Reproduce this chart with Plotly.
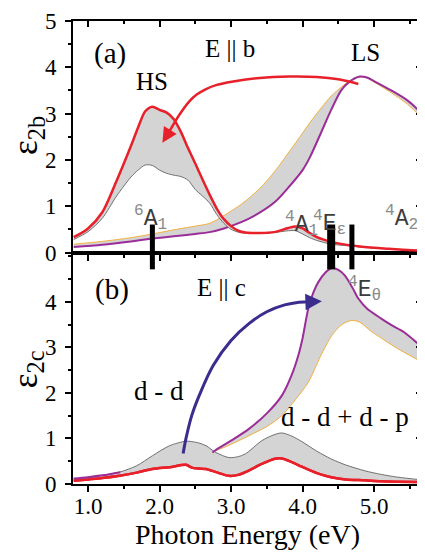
import plotly.graph_objects as go

# ---------------- data ----------------
# Panel (a): eps_2b, HS pair (red upper / gray lower)
E_hs_a = [0.8, 1.0, 1.2, 1.4, 1.6, 1.7, 1.8, 1.9, 2.0, 2.1, 2.2, 2.3, 2.4, 2.5, 2.6, 2.7, 2.8,
          2.9, 3.0, 3.1, 3.2, 3.4, 3.6, 3.8, 3.9, 4.0, 4.1, 4.2, 4.4, 4.6, 4.8, 5.0, 5.2, 5.4, 5.67]
hs_a_red = [0.33, 0.52, 0.87, 1.55, 2.3, 2.7, 3.05, 3.15, 3.08, 3.02, 2.88, 2.6, 2.25, 1.92, 1.58,
            1.25, 0.95, 0.72, 0.57, 0.47, 0.43, 0.42, 0.44, 0.53, 0.56, 0.52, 0.42, 0.33, 0.23,
            0.17, 0.13, 0.1, 0.08, 0.06, 0.04]
hs_a_gray = [0.28, 0.45, 0.74, 1.22, 1.63, 1.78, 1.89, 1.88, 1.78, 1.71, 1.67, 1.64, 1.56, 1.36,
             1.22, 1.07, 0.82, 0.63, 0.5, 0.44, 0.42, 0.42, 0.43, 0.47, 0.47, 0.4, 0.32, 0.26,
             0.18, 0.15, 0.12, 0.1, 0.08, 0.06, 0.04]

# Panel (a): LS pair (orange / purple)
E_ls_a = [0.8, 1.2, 1.6, 1.9, 2.2, 2.5, 2.7, 2.9, 3.15, 3.4, 3.62, 3.8, 4.0, 4.1, 4.27, 4.4,
          4.54, 4.65, 4.8, 4.9, 5.0, 5.24, 5.47, 5.67]
ls_a_purple = [0.12, 0.17, 0.24, 0.3, 0.35, 0.4, 0.44, 0.52, 0.66, 0.86, 1.1, 1.4, 1.78, 2.05,
               2.63, 3.08, 3.5, 3.68, 3.8, 3.78, 3.7, 3.5, 3.28, 3.0]
ls_a_orange = [0.18, 0.24, 0.32, 0.4, 0.49, 0.57, 0.63, 0.8, 1.05, 1.38, 1.77, 2.15, 2.58, 2.8,
               3.14, 3.38, 3.57, 3.7, 3.79, 3.77, 3.68, 3.45, 3.2, 2.9]

# Panel (b): eps_2c, HS pair (gray upper / red lower)
E_hs_c = [0.8, 1.0, 1.2, 1.44, 1.68, 1.9, 2.14, 2.37, 2.45, 2.55, 2.65, 2.79, 2.97, 3.1, 3.2,
          3.43, 3.6, 3.71, 3.85, 3.99, 4.2, 4.4, 4.6, 4.87, 5.1, 5.33, 5.67]
hs_c_gray = [0.11, 0.14, 0.19, 0.26, 0.4, 0.62, 0.84, 0.94, 0.93, 0.9, 0.84, 0.69, 0.58, 0.6,
             0.66, 0.95, 1.08, 1.12, 1.05, 0.93, 0.72, 0.55, 0.42, 0.29, 0.21, 0.15, 0.09]
hs_c_red = [0.07, 0.1, 0.13, 0.18, 0.25, 0.33, 0.37, 0.42, 0.36, 0.34, 0.33, 0.26, 0.18, 0.2,
            0.26, 0.44, 0.55, 0.56, 0.48, 0.38, 0.24, 0.15, 0.1, 0.08, 0.06, 0.05, 0.04]

# Panel (b): LS pair (purple upper / orange lower)
E_ls_c = [2.74, 2.79, 3.0, 3.25, 3.5, 3.71, 3.85, 3.94, 4.0, 4.08, 4.15, 4.22, 4.32, 4.41, 4.5,
          4.59, 4.7, 4.78, 4.9, 5.1, 5.25, 5.42, 5.67]
ls_c_purple = [0.69, 0.75, 0.95, 1.21, 1.55, 1.94, 2.4, 2.82, 3.2, 3.85, 4.2, 4.43, 4.64, 4.74,
               4.7, 4.58, 4.3, 4.07, 3.85, 3.63, 3.48, 3.33, 3.0]
E_ls_c_o = [2.74, 2.79, 3.0, 3.25, 3.5, 3.71, 3.9, 4.08, 4.25, 4.41, 4.55, 4.69, 4.8, 4.96,
            5.15, 5.33, 5.5, 5.67]
ls_c_orange = [0.69, 0.73, 0.87, 1.06, 1.26, 1.5, 1.85, 2.23, 2.8, 3.26, 3.5, 3.59, 3.55, 3.35,
               3.15, 2.97, 2.82, 2.67]
E_ls_c_low = [0.8, 1.0, 1.2, 1.45]
ls_c_purple_low = [0.12, 0.15, 0.19, 0.26]

# Multiplet transition energies (panel a) and their term labels
trans_E = [1.9, 4.4, 4.69, 5.67]
trans_sup = ["6", "4", "4", "4"]
trans_main = ["A", "A", "E", "A"]
trans_sub = ["1", "1", "ε", "2"]
Eth_parts = ("4", "E", "θ")

# Arrow paths
arrow_a_x = [4.78, 4.5, 4.2, 3.81, 3.4, 3.01, 2.8, 2.65, 2.52, 2.42, 2.28, 2.14]
arrow_a_y = [3.64, 3.74, 3.79, 3.8, 3.77, 3.69, 3.62, 3.53, 3.41, 3.27, 2.98, 2.62]
arrow_a_tip = (2.04, 2.37)
arrow_b_x = [2.33, 2.37, 2.45, 2.56, 2.75, 3.0, 3.25, 3.5, 3.75, 3.95, 4.1]
arrow_b_y = [0.67, 1.0, 1.5, 1.96, 2.6, 3.15, 3.52, 3.78, 3.93, 3.99, 4.0]
arrow_b_tip = (4.27, 4.01)

x_ticks = [1.0, 2.0, 3.0, 4.0, 5.0]
y_ticks_a = [0, 1, 2, 3, 4, 5]
y_ticks_c = [0, 1, 2, 3, 4]

# ---------------- style ----------------
RED = "#e8202a"
GRAY = "#707070"
PURPLE = "#9b2d98"
ORANGE = "#f2b03c"
FILL = "#d4d4d4"
BLUE = "#3a2d8e"
SERIF = "Liberation Serif, Times New Roman, serif"
MONO = "Liberation Mono, Courier New, monospace"

fig = go.Figure()

def pair(x1, y1, c1, w1, x2, y2, c2, w2, xa, ya):
    fig.add_trace(go.Scatter(x=x1, y=y1, mode="lines", xaxis=xa, yaxis=ya,
                             line=dict(color=c1, width=w1, shape="spline", smoothing=0.8),
                             hoverinfo="skip", showlegend=False))
    fig.add_trace(go.Scatter(x=x2, y=y2, mode="lines", xaxis=xa, yaxis=ya,
                             fill="tonexty", fillcolor=FILL,
                             line=dict(color=c2, width=w2, shape="spline", smoothing=0.8),
                             hoverinfo="skip", showlegend=False))

# panel (a)
pair(E_ls_a, ls_a_orange, ORANGE, 1, E_ls_a, ls_a_purple, PURPLE, 2, "x2", "y2")
pair(E_hs_a, hs_a_gray, GRAY, 1, E_hs_a, hs_a_red, RED, 2.5, "x2", "y2")
# panel (b)
pair(E_hs_c, hs_c_red, RED, 2.5, E_hs_c, hs_c_gray, GRAY, 1, "x", "y")
fig.add_trace(go.Scatter(x=E_hs_c, y=hs_c_red, mode="lines", xaxis="x", yaxis="y",
                         line=dict(color=RED, width=2.5, shape="spline", smoothing=0.8),
                         hoverinfo="skip", showlegend=False))
pair(E_ls_c_o, ls_c_orange, ORANGE, 1, E_ls_c, ls_c_purple, PURPLE, 2, "x", "y")
fig.add_trace(go.Scatter(x=E_ls_c_low, y=ls_c_purple_low, mode="lines", xaxis="x", yaxis="y",
                         line=dict(color=PURPLE, width=2, shape="spline"),
                         hoverinfo="skip", showlegend=False))

# transition bars
fig.add_trace(go.Scatter(x=trans_E, y=[0.12] * len(trans_E), mode="markers", xaxis="x2", yaxis="y2",
                         cliponaxis=False,
                         marker=dict(symbol="line-ns", size=32, color="black",
                                     line=dict(color="black", width=[5, 8, 5, 5])),
                         hoverinfo="skip", showlegend=False))

# arrows (shafts)
fig.add_trace(go.Scatter(x=arrow_a_x, y=arrow_a_y, mode="lines", xaxis="x2", yaxis="y2",
                         line=dict(color=RED, width=2.5, shape="spline"),
                         hoverinfo="skip", showlegend=False))
fig.add_trace(go.Scatter(x=arrow_b_x, y=arrow_b_y, mode="lines", xaxis="x", yaxis="y",
                         line=dict(color=BLUE, width=3, shape="spline"),
                         hoverinfo="skip", showlegend=False))

# dummy traces for mirrored inner ticks
fig.add_trace(go.Scatter(x=[None], y=[None], xaxis="x3", yaxis="y3", showlegend=False, hoverinfo="skip"))
fig.add_trace(go.Scatter(x=[None], y=[None], xaxis="x", yaxis="y4", showlegend=False, hoverinfo="skip"))

ann = []
# arrowheads
ann.append(dict(x=arrow_a_tip[0], y=arrow_a_tip[1], ax=arrow_a_x[-1], ay=arrow_a_y[-1],
                xref="x2", yref="y2", axref="x2", ayref="y2", text="", showarrow=True,
                arrowhead=2, arrowsize=1.2, arrowwidth=2.5, arrowcolor=RED))
ann.append(dict(x=arrow_b_tip[0], y=arrow_b_tip[1], ax=arrow_b_x[-1], ay=arrow_b_y[-1],
                xref="x", yref="y", axref="x", ayref="y", text="", showarrow=True,
                arrowhead=2, arrowsize=1.1, arrowwidth=3, arrowcolor=BLUE))

def txt(x, y, s, size, xref="x2", yref="y2", font=SERIF, color="black", angle=0):
    ann.append(dict(x=x, y=y, xref=xref, yref=yref, text=s, showarrow=False, textangle=angle,
                    xanchor="center", yanchor="middle",
                    font=dict(family=font, size=size, color=color)))

def term(sup, main, sub):
    return ("<sup><span style='color:#8a8a8a'>%s</span></sup>%s"
            "<sub><span style='color:#8a8a8a'>%s</span></sub>" % (sup, main, sub))

txt(1.31, 4.3, "(a)", 29)
txt(2.98, 4.41, "E || b", 25)
txt(1.89, 3.69, "HS", 25)
txt(4.88, 4.32, "LS", 25)
txt(1.33, 4.27, "(b)", 29, "x", "y")
txt(2.86, 4.32, "E || c", 25, "x", "y")
txt(1.99, 2.03, "d - d", 27, "x", "y")
txt(4.6, 1.46, "d - d + d - p", 27, "x", "y")

trans_pos = [(1.88, 0.75), (3.98, 0.62), (4.38, 0.64), (5.38, 0.74)]
for (px, py), s1, m, s2 in zip(trans_pos, trans_sup, trans_main, trans_sub):
    txt(px, py, term(s1, m, s2), 23, font=MONO, color="#3c3c3c")
txt(4.86, 4.28, term(*Eth_parts), 23, "x", "y", font=MONO, color="#3c3c3c")

# y-axis titles (rotated annotations placed in the left margin)
txt(-0.13, 0.753, "ε<sub>2b</sub>", 35, "paper", "paper", angle=-90)
txt(-0.13, 0.247, "ε<sub>2c</sub>", 35, "paper", "paper", angle=-90)

axis_common = dict(showline=True, linewidth=2, linecolor="black", showgrid=False, zeroline=False,
                   ticks="outside", ticklen=6, tickwidth=1.5, tickcolor="black",
                   tickfont=dict(family=SERIF, size=23, color="black"))
minor_x = dict(dtick=0.5, ticks="outside", ticklen=3, tickcolor="black", showgrid=False)
minor_y = dict(dtick=0.5, ticks="outside", ticklen=3, tickcolor="black", showgrid=False)
inner = dict(showticklabels=False, showline=False, showgrid=False, zeroline=False,
             ticks="inside", ticklen=6, tickwidth=1.5, tickcolor="black",
             minor=dict(dtick=0.5, ticks="inside", ticklen=3, tickcolor="black"))

# The page body has an 8px default margin, so the figure is sized and padded to fit the window.
fig.update_layout(
    width=417, height=546,
    margin=dict(l=65, r=1, t=12, b=70),
    paper_bgcolor="white", plot_bgcolor="white",
    font=dict(family=SERIF, color="black"),
    showlegend=False,
    annotations=ann,
    xaxis=dict(domain=[0, 1], anchor="y", range=[0.79, 5.67], tickvals=x_ticks,
               tickformat=".1f", mirror=True, minor=minor_x, ticklabelstandoff=-6,
               title=dict(text="Photon Energy (eV)", font=dict(family=SERIF, size=28, color="black"),
                          standoff=6),
               **axis_common),
    xaxis2=dict(domain=[0, 1], anchor="y2", range=[0.79, 5.67], tickvals=x_ticks,
                showticklabels=False, mirror=True, minor=minor_x, matches="x", **axis_common),
    xaxis3=dict(overlaying="x2", anchor="y2", side="top", range=[0.79, 5.67], tickvals=x_ticks,
                **inner),
    yaxis=dict(domain=[0, 0.5], anchor="x", range=[0, 5.08], tickvals=y_ticks_c, mirror=True,
               minor=minor_y, ticklabelstandoff=4, **axis_common),
    yaxis2=dict(domain=[0.5, 1], anchor="x2", range=[0, 5], tickvals=y_ticks_a, mirror=True,
                minor=minor_y, ticklabelstandoff=4, **axis_common),
    yaxis3=dict(overlaying="y2", anchor="x3", side="right", range=[0, 5], tickvals=y_ticks_a, **inner),
    yaxis4=dict(overlaying="y", anchor="x", side="right", range=[0, 5.08], tickvals=y_ticks_c, **inner),
)

fig.write_html("out.html")
